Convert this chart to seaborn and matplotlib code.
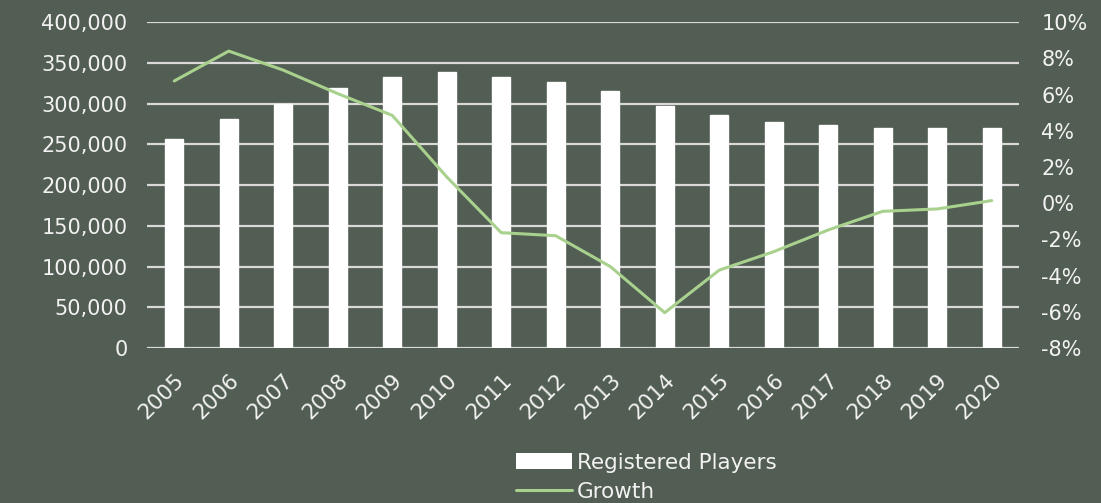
import numpy as np
import pandas as pd
import matplotlib
matplotlib.use("Agg")
import matplotlib.pyplot as plt
import seaborn as sns
from matplotlib.ticker import FuncFormatter, MultipleLocator
from matplotlib.patches import Patch
from matplotlib.lines import Line2D

years = ["2005", "2006", "2007", "2008", "2009", "2010", "2011", "2012",
         "2013", "2014", "2015", "2016", "2017", "2018", "2019", "2020"]
registered_players = [257000, 280500, 300000, 319500, 333000, 339000, 332500, 326000,
                      316000, 296500, 286500, 277000, 273500, 270500, 270500, 270500]
growth_pct = [6.75, 8.4, 7.35, 6.05, 4.85, 1.45, -1.63, -1.8,
              -3.5, -6.05, -3.7, -2.68, -1.48, -0.45, -0.32, 0.14]

BG = "#525D53"
GRID = "#D9D9D9"
TEXT = "#F2F2F2"
GREEN = "#A9D18E"

sns.set_theme(style="white")
plt.rcParams["font.family"] = ["DejaVu Sans"]

df = pd.DataFrame({"year": years, "players": registered_players, "growth": growth_pct})

fig = plt.figure(figsize=(11.01, 5.03), dpi=100)
fig.patch.set_facecolor(BG)
ax = fig.add_axes([0.1335, 0.3082, 0.792, 0.6478])
ax.set_facecolor(BG)

sns.barplot(data=df, x="year", y="players", color="white", saturation=1,
            width=0.33, ax=ax, zorder=3)
ax.set_ylim(0, 400000)
ax.set_xlim(-0.5, len(years) - 0.5)
ax.yaxis.set_major_locator(MultipleLocator(50000))
ax.yaxis.set_major_formatter(FuncFormatter(lambda v, p: f"{int(v):,}"))
ax.grid(axis="y", color=GRID, linewidth=1.6, zorder=0)
ax.set_axisbelow(True)
ax.set_xlabel("")
ax.set_ylabel("")
for s in ax.spines.values():
    s.set_visible(False)
ax.tick_params(axis="y", length=0, pad=14, labelsize=15, labelcolor=TEXT)
ax.tick_params(axis="x", length=0, pad=16, labelsize=15.5, labelcolor=TEXT)
for lbl in ax.get_xticklabels():
    lbl.set_rotation(45)
    lbl.set_ha("right")
    lbl.set_va("top")
    lbl.set_rotation_mode("anchor")

ax2 = ax.twinx()
sns.lineplot(x=np.arange(len(years)), y=df["growth"], color=GREEN, linewidth=2.2,
             ax=ax2, zorder=4)
ax2.set_ylim(-8, 10)
ax2.yaxis.set_major_locator(MultipleLocator(2))
ax2.yaxis.set_major_formatter(FuncFormatter(lambda v, p: f"{int(round(v))}%"))
ax2.set_ylabel("")
for s in ax2.spines.values():
    s.set_visible(False)
ax2.tick_params(axis="y", length=0, pad=16, labelsize=15, labelcolor=TEXT)
ax2.grid(False)
ax.set_xlim(-0.5, len(years) - 0.5)

handles = [Patch(facecolor="white", edgecolor="none"),
           Line2D([0], [0], color=GREEN, linewidth=2.2)]
leg = fig.legend(handles, ["Registered Players", "Growth"], loc="lower center",
                 bbox_to_anchor=(0.587, -0.037), frameon=False, fontsize=15.5,
                 labelcolor=TEXT, handlelength=2.6, handleheight=0.8,
                 handletextpad=0.25, labelspacing=0.45)

fig.savefig("out.png", dpi=100, facecolor=BG)
